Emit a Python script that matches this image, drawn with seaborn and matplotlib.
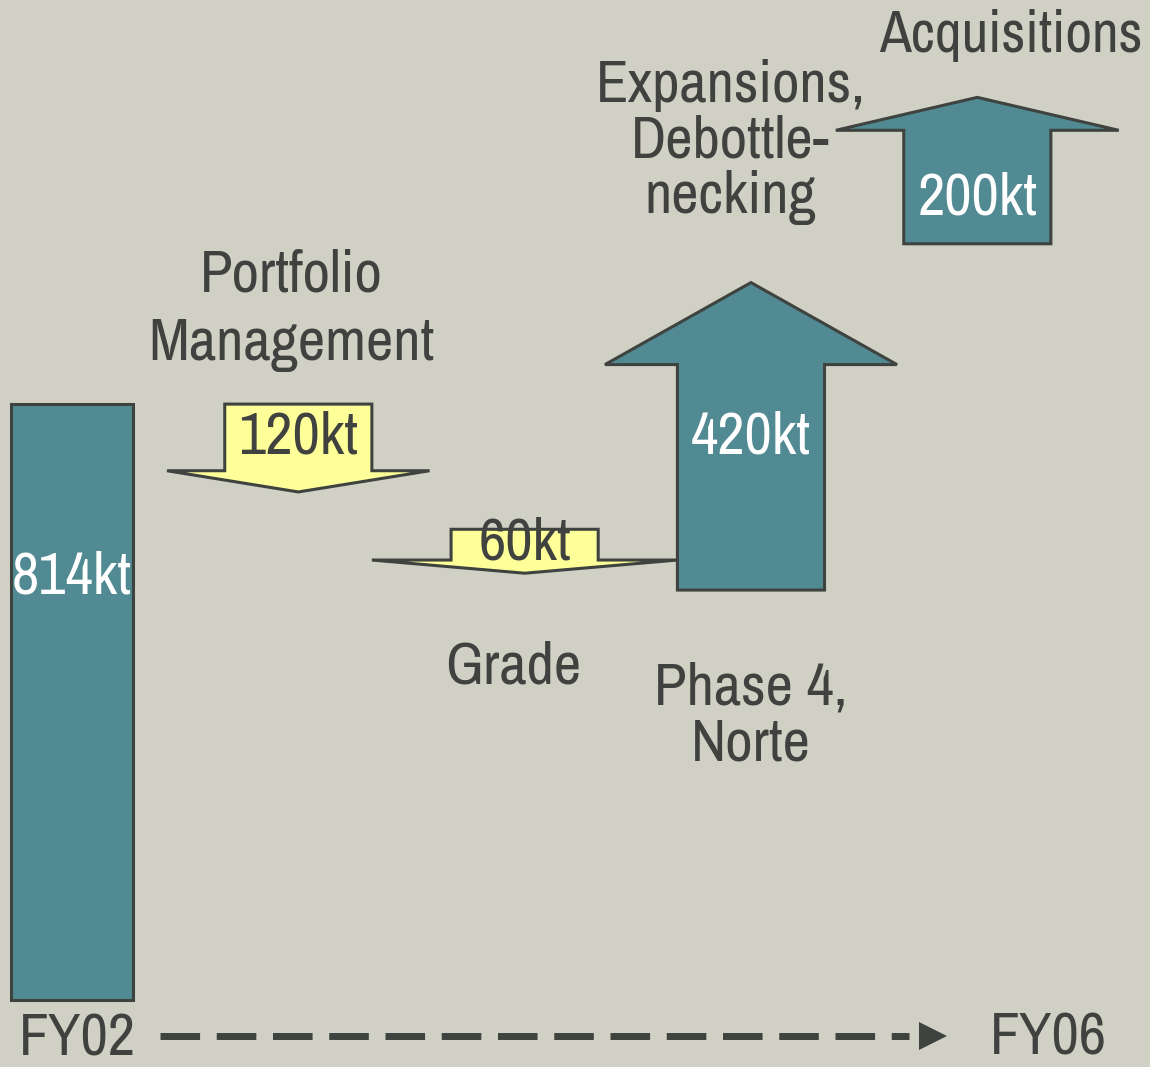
import numpy as np
import matplotlib
matplotlib.use("Agg")
import matplotlib.pyplot as plt
from matplotlib.patches import Polygon
from matplotlib import font_manager
import seaborn as sns

# ---------------- DATA ----------------
start_label = "FY02"
end_label = "FY06"
bar_value = 814                               # starting capacity (kt)
change_kt = [-120, -60, 420, 200]             # arrows (kt)
start_kt = [814, 643, 560, 1033]              # level where each arrow starts
value_labels = ["814kt", "120kt", "60kt", "420kt", "200kt"]
step_names = ["Portfolio\nManagement", "Grade", "Phase 4,\nNorte", "Acquisitions"]
extra_name = "Expansions,\nDebottle-\nnecking"  # second caption on the 420kt arrow

# ---------------- STYLE ----------------
BG = "#D0D0C5"
TEAL = "#518A92"
YELLOW = "#FFFF99"
EDGE = "#3F4340"
TXT = "#404240"

sns.set_theme(style="white")

# look for a narrow face (the slide uses a thin condensed sans)
narrow = None
for key in ["Narrow", "Condensed"]:
    for f in font_manager.fontManager.ttflist:
        if key in f.name and f.style == "normal":
            narrow = f
            break
    if narrow:
        break
if narrow is None:
    for f in font_manager.fontManager.ttflist:
        if "condensed" in str(f.stretch) and f.style == "normal":
            narrow = f
            break

if narrow is not None:
    plt.rcParams["font.family"] = [narrow.name, "DejaVu Sans"]
    FS = 43
else:
    plt.rcParams["font.family"] = ["Roboto", "DejaVu Sans"]
    FS = 35
plt.rcParams["font.weight"] = "light"

fig = plt.figure(figsize=(11.5, 10.67), dpi=100, facecolor=BG)
ax = fig.add_axes([0, 0, 1, 1])
ax.set_facecolor(BG)

# starting bar
sns.barplot(x=[0], y=[bar_value], ax=ax, width=0.535, color=TEAL,
            edgecolor=EDGE, linewidth=2.2, saturation=1)

shaft_w = 0.65
head_w = [1.16, 1.35, 1.29, 1.25]
head_len = [29, 18, 112, 45]
arrow_x = np.arange(1, len(change_kt) + 1)

for i, (x, s, v) in enumerate(zip(arrow_x, start_kt, change_kt)):
    e = s + v
    hb = e - np.sign(v) * head_len[i]
    w, hw = shaft_w / 2, head_w[i] / 2
    pts = [(x - w, s), (x + w, s), (x + w, hb), (x + hw, hb), (x, e),
           (x - hw, hb), (x - w, hb)]
    col = YELLOW if v < 0 else TEAL
    ax.add_patch(Polygon(pts, closed=True, facecolor=col, edgecolor=EDGE,
                         linewidth=2.2, joinstyle="miter", zorder=3))

# value labels
label_frac = [0.71, 0.5, 0.45, 0.68, 0.4]
ax.text(0, bar_value * label_frac[0], value_labels[0], ha="center", va="center",
        color="white", fontsize=FS, fontweight="light", zorder=5)
for i, (x, s, v) in enumerate(zip(arrow_x, start_kt, change_kt)):
    hb = s + v - np.sign(v) * head_len[i]
    y = s + (hb - s) * label_frac[i + 1]
    ax.text(x, y, value_labels[i + 1], ha="center", va="center", fontweight="light",
            color=TXT if v < 0 else "white", fontsize=FS, zorder=5)

# step names
kw = dict(ha="center", va="center", color=TXT, fontsize=FS, fontweight="light")
ax.text(arrow_x[0] - 0.03, start_kt[0] + 128, step_names[0], linespacing=1.35, **kw)
ax.text(arrow_x[1] - 0.05, start_kt[1] + change_kt[1] - 128, step_names[1], **kw)
ax.text(arrow_x[2], start_kt[2] - 172, step_names[2], linespacing=1.05, **kw)
ax.text(arrow_x[2] - 0.09, start_kt[2] + change_kt[2] + 192, extra_name,
        linespacing=1.05, **kw)
kw["fontsize"] = FS - 1
ax.text(arrow_x[3] + 0.15, start_kt[3] + change_kt[3] + 85, step_names[3], **kw)

# timeline along the bottom
ax.text(0.016, 0.026, start_label, transform=ax.transAxes, ha="left", va="center",
        color=TXT, fontsize=FS, fontweight="light")
ax.text(0.861, 0.027, end_label, transform=ax.transAxes, ha="left", va="center",
        color=TXT, fontsize=FS, fontweight="light")
ax.plot([0.139, 0.79], [0.029, 0.029], transform=ax.transAxes, color=EDGE,
        linewidth=5, linestyle=(0, (5.7, 2.4)), dash_capstyle="butt")
ax.plot([0.811], [0.029], transform=ax.transAxes, marker=">", markersize=20,
        color=EDGE, markeredgewidth=0)

ax.set_xlim(-0.318, 4.763)
ax.set_ylim(-91.5, 1366)
ax.set_axis_off()

fig.savefig("out.png", dpi=100, facecolor=BG)
